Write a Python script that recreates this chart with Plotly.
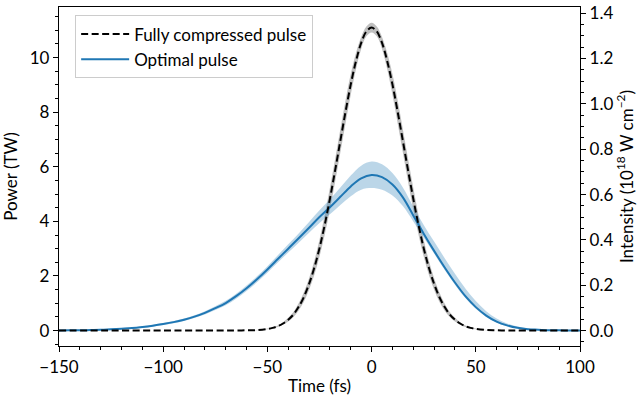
import plotly.graph_objects as go

# fully compressed pulse (power, TW) and its spread
T_FC = [-150, -100, -70, -65, -60, -55, -50, -47.5, -45, -42.5, -40, -37.5, -35,
        -32.5, -30, -27.5, -25, -22.5, -20, -17.5, -15, -12.5, -10, -7.5, -5,
        -2.5, 0, 2.5, 5, 7.5, 10, 12.5, 15, 17.5, 20, 22.5, 25, 27.5, 30, 32.5,
        35, 37.5, 40, 42.5, 45, 47.5, 50, 55, 60, 65, 70, 100]
P_FC = [0.0, 0.0, 0.0, 0.0, 0.01, 0.02, 0.06, 0.10, 0.16, 0.26, 0.40, 0.59, 0.87,
        1.23, 1.71, 2.30, 3.02, 3.87, 4.83, 5.87, 6.95, 8.02, 9.02, 9.87, 10.54,
        10.96, 11.10, 10.96, 10.54, 9.87, 9.02, 8.02, 6.95, 5.87, 4.83, 3.87,
        3.02, 2.30, 1.71, 1.23, 0.87, 0.59, 0.40, 0.26, 0.16, 0.10, 0.06, 0.02,
        0.01, 0.0, 0.0, 0.0]
ERR_FC = [0.0, 0.0, 0.0, 0.0, 0.0, 0.005, 0.012, 0.02, 0.03, 0.045, 0.067, 0.09,
          0.13, 0.17, 0.21, 0.26, 0.31, 0.36, 0.40, 0.42, 0.43, 0.42, 0.38, 0.30,
          0.22, 0.18, 0.18, 0.18, 0.22, 0.30, 0.38, 0.42, 0.43, 0.42, 0.40, 0.36,
          0.31, 0.26, 0.21, 0.17, 0.13, 0.09, 0.067, 0.045, 0.03, 0.02, 0.012,
          0.005, 0.0, 0.0, 0.0, 0.0]

# optimal pulse (power, TW) with asymmetric spread
T_OPT = list(range(-150, 101, 5))
P_OPT = [0.0, 0.01, 0.01, 0.02, 0.03, 0.05, 0.07, 0.09, 0.13, 0.18, 0.24, 0.31,
         0.40, 0.51, 0.65, 0.82, 1.01, 1.26, 1.55, 1.88, 2.24, 2.62, 3.00, 3.38,
         3.77, 4.16, 4.52, 4.90, 5.28, 5.58, 5.70, 5.62, 5.35, 4.88, 4.22, 3.55,
         2.92, 2.32, 1.76, 1.26, 0.86, 0.55, 0.33, 0.19, 0.10, 0.05, 0.03, 0.01,
         0.01, 0.0, 0.0]
UP_OPT = [0.0, 0.005, 0.01, 0.01, 0.01, 0.015, 0.02, 0.02, 0.025, 0.03, 0.035,
          0.04, 0.045, 0.05, 0.06, 0.07, 0.08, 0.09, 0.10, 0.11, 0.12, 0.14,
          0.16, 0.18, 0.21, 0.25, 0.29, 0.34, 0.40, 0.46, 0.49, 0.47, 0.42,
          0.36, 0.32, 0.32, 0.34, 0.34, 0.32, 0.28, 0.22, 0.16, 0.11, 0.07,
          0.05, 0.03, 0.02, 0.01, 0.005, 0.0, 0.0]
DN_OPT = [0.0, 0.005, 0.01, 0.01, 0.01, 0.015, 0.02, 0.02, 0.025, 0.03, 0.035,
          0.04, 0.045, 0.05, 0.06, 0.07, 0.08, 0.09, 0.10, 0.11, 0.12, 0.13,
          0.14, 0.16, 0.19, 0.22, 0.26, 0.30, 0.36, 0.42, 0.48, 0.46, 0.40,
          0.32, 0.22, 0.14, 0.10, 0.09, 0.08, 0.07, 0.06, 0.05, 0.04, 0.03,
          0.02, 0.01, 0.01, 0.005, 0.0, 0.0, 0.0]

Y_RANGE = [-0.565, 11.855]
TW_TO_INTENSITY = 0.1204  # 10^18 W/cm^2 per TW

BLUE = "#1f77b4"
FONT = "Lato, DejaVu Sans, sans-serif"
FS = 17


def band(x, y, up, dn, color):
    hi = [v + u for v, u in zip(y, up)]
    lo = [v - d for v, d in zip(y, dn)]
    return go.Scatter(x=list(x) + list(x)[::-1], y=hi + lo[::-1], fill="toself",
                      fillcolor=color, line={"width": 0, "shape": "spline"},
                      mode="lines", hoverinfo="skip", showlegend=False)


fig = go.Figure()
fig.add_trace(band(T_FC, P_FC, ERR_FC, ERR_FC, "rgba(128,128,128,0.5)"))
fig.add_trace(band(T_OPT, P_OPT, UP_OPT, DN_OPT, "rgba(31,119,180,0.3)"))
fig.add_trace(go.Scatter(x=T_OPT, y=P_OPT, mode="lines", name="Optimal pulse",
                         line={"color": BLUE, "width": 2, "shape": "spline"},
                         legendrank=2))
fig.add_trace(go.Scatter(x=T_FC, y=P_FC, mode="lines", name="Fully compressed pulse",
                         line={"color": "black", "width": 2, "dash": "7px,3.5px",
                               "shape": "spline"},
                         legendrank=1))
# right axis carries the same pulse in intensity units (invisible)
fig.add_trace(go.Scatter(x=T_FC, y=[p * TW_TO_INTENSITY for p in P_FC], yaxis="y2",
                         mode="lines", line={"width": 0}, opacity=0,
                         showlegend=False, hoverinfo="skip"))

axis = {"showline": True, "linecolor": "black", "linewidth": 1.3, "ticks": "outside",
        "ticklen": 5, "tickwidth": 1.2, "tickcolor": "black", "showgrid": False,
        "zeroline": False, "automargin": False,
        "tickfont": {"size": FS, "color": "black"}}
minor = {"ticks": "outside", "ticklen": 3, "tickcolor": "black", "tickwidth": 1}

fig.update_layout(
    width=639, height=400,
    font={"family": FONT, "size": FS, "color": "black"},
    paper_bgcolor="white", plot_bgcolor="white",
    margin={"l": 59, "r": 59, "t": 7, "b": 54},
    xaxis={**axis, "range": [-150, 100], "dtick": 50, "mirror": True,
           "minor": {**minor, "dtick": 10},
           "title": {"text": "Time (fs)", "standoff": 4, "font": {"size": FS}}},
    yaxis={**axis, "range": Y_RANGE, "dtick": 2, "mirror": True,
           "minor": {**minor, "dtick": 0.5},
           "title": {"text": "Power (TW)", "standoff": 10, "font": {"size": FS}}},
    yaxis2={**axis, "overlaying": "y", "side": "right",
            "range": [Y_RANGE[0] * TW_TO_INTENSITY, Y_RANGE[1] * TW_TO_INTENSITY],
            "dtick": 0.2, "tickformat": ".1f",
            "minor": {**minor, "dtick": 0.05},
            "title": {"text": "Intensity (10<sup>18</sup> W cm<sup>−2</sup>)",
                      "standoff": 6, "font": {"size": FS}}},
    legend={"x": 0.031, "y": 0.975, "xanchor": "left", "yanchor": "top",
            "bgcolor": "rgba(255,255,255,0.8)", "bordercolor": "#cccccc",
            "borderwidth": 1, "font": {"size": FS}, "tracegroupgap": 0,
            "itemwidth": 48},
    showlegend=True,
)

# the page's default body margin would push the figure 8px off the window
fig.write_html("out.html", config={"displayModeBar": False},
               post_script="document.body.style.margin = '0';")
